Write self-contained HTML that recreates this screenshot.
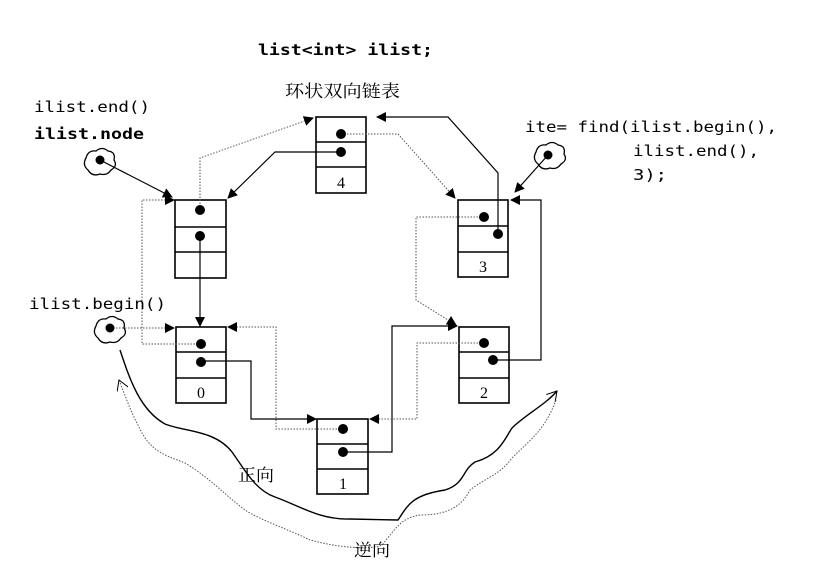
<!DOCTYPE html>
<html><head><meta charset="utf-8"><style>
html,body{margin:0;padding:0;background:#fff;}
svg{display:block;}
.m{font-family:"DejaVu Sans Mono","Liberation Mono",monospace;font-size:15px;fill:#000;}
.c{font-family:"Liberation Serif","Noto Serif CJK SC",serif;font-size:17px;fill:#000;}
.n{font-family:"Liberation Serif",serif;font-size:16px;fill:#000;}
</style></head><body>
<svg width="820" height="569" viewBox="0 0 820 569" xmlns="http://www.w3.org/2000/svg">
<defs>
<marker id="a" markerWidth="10" markerHeight="10" refX="9" refY="5" orient="auto" markerUnits="userSpaceOnUse"><path d="M0,0 L10,5 L0,10 Z" fill="#000"/></marker>
<marker id="o" markerWidth="12" markerHeight="12" refX="10" refY="6" orient="auto" markerUnits="userSpaceOnUse"><path d="M0,0 L10,6 L0,12" fill="none" stroke="#000" stroke-width="1"/></marker>
</defs>
<g fill="none" stroke="#000" stroke-width="1.6">
<!-- nodes -->
<rect x="316" y="117" width="50" height="76"/><line x1="316" y1="142" x2="366" y2="142"/><line x1="316" y1="167" x2="366" y2="167"/>
<rect x="175" y="200" width="51" height="78"/><line x1="175" y1="227" x2="226" y2="227"/><line x1="175" y1="252" x2="226" y2="252"/>
<rect x="458" y="200" width="50" height="77"/><line x1="458" y1="226" x2="508" y2="226"/><line x1="458" y1="252" x2="508" y2="252"/>
<rect x="176" y="327" width="50" height="76"/><line x1="176" y1="352" x2="226" y2="352"/><line x1="176" y1="378" x2="226" y2="378"/>
<rect x="459" y="327" width="50" height="76"/><line x1="459" y1="352" x2="509" y2="352"/><line x1="459" y1="378" x2="509" y2="378"/>
<rect x="317" y="419" width="51" height="75"/><line x1="317" y1="444" x2="368" y2="444"/><line x1="317" y1="469" x2="368" y2="469"/>
</g>
<g fill="none" stroke="#000" stroke-width="1.2">
<!-- solid next links -->
<polyline points="200,236 200,326" marker-end="url(#a)"/>
<polyline points="201,361 251,361 251,419 316,419" marker-end="url(#a)"/>
<polyline points="343,452 392,452 392,326 457,326" marker-end="url(#a)"/>
<polyline points="493,360 541,360 541,200 511,200" marker-end="url(#a)"/>
<polyline points="498,234 498,173 448,117 377,117" marker-end="url(#a)"/>
<polyline points="341,152 275,152 228,198" marker-end="url(#a)"/>
<line x1="100" y1="160" x2="172" y2="197" marker-end="url(#a)"/>
<line x1="548" y1="155" x2="515" y2="192" marker-end="url(#a)"/>
</g>
<g fill="none" stroke="#555" stroke-width="1" stroke-dasharray="1.5,1.5">
<polyline points="341,134 398,134 455,198" marker-end="url(#a)"/>
<polyline points="484,217 416,217 416,300 456,325" marker-end="url(#a)"/>
<polyline points="484,343 417,343 417,419 370,419" marker-end="url(#a)"/>
<polyline points="343,429 276,429 276,327 228,327" marker-end="url(#a)"/>
<polyline points="201,344 142,344 142,200 174,200" marker-end="url(#a)"/>
<polyline points="200,210 200,158 313,118" marker-end="url(#a)"/>
<polyline points="110,328 174,328" marker-end="url(#a)"/>
</g>
<g fill="#000">
<circle cx="341" cy="134" r="5"/><circle cx="341" cy="152" r="5"/>
<circle cx="200" cy="210" r="5"/><circle cx="200" cy="236" r="5"/>
<circle cx="484" cy="217" r="5"/><circle cx="498" cy="234" r="5"/>
<circle cx="201" cy="344" r="5"/><circle cx="201" cy="362" r="5"/>
<circle cx="484" cy="343" r="5"/><circle cx="493" cy="360" r="5"/>
<circle cx="343" cy="429" r="5"/><circle cx="343" cy="452" r="5"/>
<circle cx="100" cy="160" r="4.5"/><circle cx="110" cy="328" r="4.5"/><circle cx="548" cy="155" r="4.5"/>
</g>
<!-- clouds -->
<g fill="none" stroke="#000" stroke-width="1.3">
<path d="M86,158 q2,-8 10,-7 q6,-5 12,0 q8,1 6,9 q4,6 -3,10 q-4,6 -11,4 q-8,3 -12,-4 q-6,-5 -2,-12z"/>
<path d="M96,326 q2,-8 10,-7 q6,-5 12,0 q8,1 6,9 q4,6 -3,10 q-4,6 -11,4 q-8,3 -12,-4 q-6,-5 -2,-12z"/>
<path d="M536,152 q2,-8 10,-7 q6,-5 12,0 q8,1 6,9 q4,6 -3,10 q-4,6 -11,4 q-8,3 -12,-4 q-6,-5 -2,-12z"/>
</g>
<!-- direction curves -->
<path d="M120,350 C130,380 140,410 165,424 C185,432 215,430 232,452 C245,470 255,490 275,497 C300,506 320,520 350,519 L398,520 C408,505 412,495 445,490 C465,484 462,470 475,462 C500,455 505,438 512,428 C525,415 545,405 557,391" fill="none" stroke="#000" stroke-width="1.4" marker-end="url(#o)"/>
<path d="M556,400 C545,430 530,440 512,458 C500,475 485,478 470,490 C462,505 450,515 420,515 C400,518 395,530 382,545 C370,550 340,548 310,540 C290,530 260,520 245,510 C225,495 210,478 185,463 C165,455 150,452 138,425 C130,410 125,395 119,380" fill="none" stroke="#555" stroke-width="1" stroke-dasharray="1.5,1.5" marker-end="url(#o)"/>
<!-- labels -->
<text x="258" y="55" class="m" font-weight="bold" textLength="175" lengthAdjust="spacingAndGlyphs">list&lt;int&gt; ilist;</text>
<text x="285" y="97" class="c" textLength="115" lengthAdjust="spacingAndGlyphs">环状双向链表</text>
<text x="34" y="112" class="m" textLength="116" lengthAdjust="spacingAndGlyphs">ilist.end()</text>
<text x="34" y="139" class="m" font-weight="bold" textLength="110" lengthAdjust="spacingAndGlyphs">ilist.node</text>
<text x="29" y="309" class="m" textLength="137" lengthAdjust="spacingAndGlyphs">ilist.begin()</text>
<text x="525" y="132" class="m" textLength="252" lengthAdjust="spacingAndGlyphs">ite= find(ilist.begin(),</text>
<text x="633" y="156" class="m" textLength="126" lengthAdjust="spacingAndGlyphs">ilist.end(),</text>
<text x="633" y="180" class="m" textLength="34" lengthAdjust="spacingAndGlyphs">3);</text>
<text x="341" y="188" class="n" text-anchor="middle">4</text>
<text x="483" y="272" class="n" text-anchor="middle">3</text>
<text x="201" y="398" class="n" text-anchor="middle">0</text>
<text x="484" y="398" class="n" text-anchor="middle">2</text>
<text x="343" y="489" class="n" text-anchor="middle">1</text>
<text x="238" y="481" class="c" font-size="16" textLength="36" lengthAdjust="spacingAndGlyphs">正向</text>
<text x="354" y="556" class="c" font-size="16" textLength="36" lengthAdjust="spacingAndGlyphs">逆向</text>
</svg>
</body></html>
